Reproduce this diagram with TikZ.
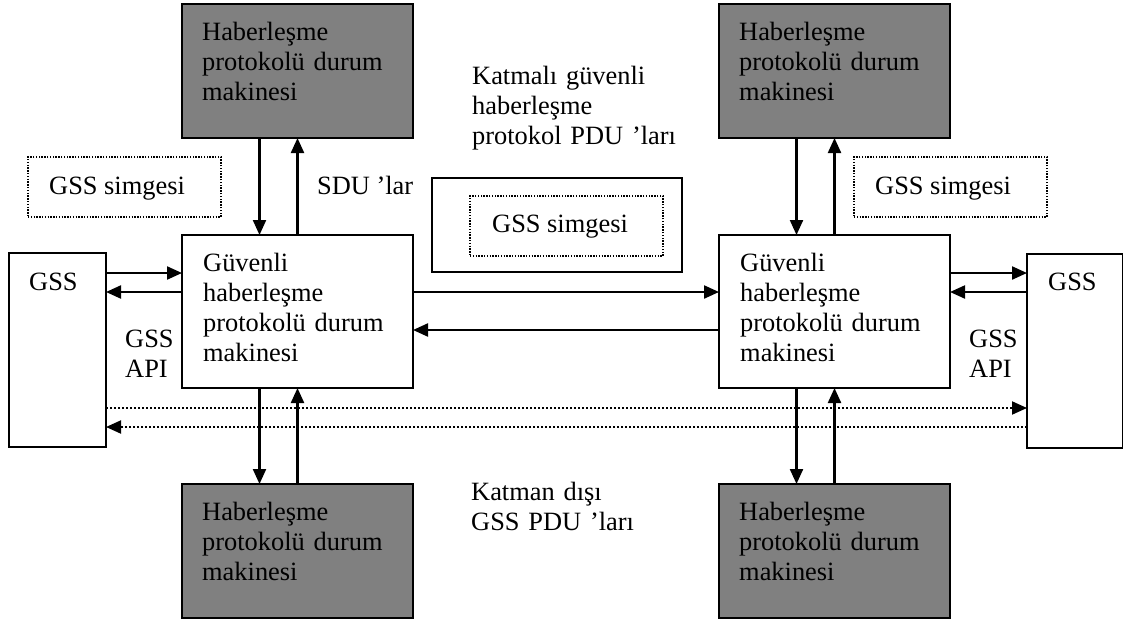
\documentclass[tikz,border=0pt]{standalone}
\usepackage{fontspec}
\setmainfont{Liberation Serif}
\usetikzlibrary{arrows.meta}
\definecolor{boxgray}{RGB}{128,128,128}
\begin{document}
\begin{tikzpicture}[x=1pt,y=-1pt,
  box/.style={draw, line width=2.2pt, rectangle, inner sep=0pt, outer sep=0pt, anchor=north west},
  machine/.style={box, fill=boxgray, minimum width=231pt, minimum height=134pt},
  core/.style={box, fill=white, minimum width=231pt, minimum height=153pt},
  gssbox/.style={box, minimum width=97pt, minimum height=194pt},
  tokenbox/.style={box, line width=1.8pt, dash pattern=on 1.4pt off 1.4pt, minimum width=193pt, minimum height=60pt},
  txt/.style={anchor=base west, align=left, inner sep=0pt, font=\fontsize{26.4}{30}\selectfont},
  mtxt/.style={txt, text width=230pt},
  arr/.style={line width=2.2pt, -{Triangle[length=15pt,width=13pt]}},
  dotarr/.style={line width=2pt, dash pattern=on 1.8pt off 2.2pt, -{Triangle[length=15pt,width=13pt]}}]
\useasboundingbox (0,0) rectangle (1123,621);

% protocol state machines (grey)
\node[machine] (mtl) at (182,4) {};
\node[machine] (mtr) at (719,4) {};
\node[machine] (mbl) at (182,484) {};
\node[machine] (mbr) at (719,484) {};
\foreach \m in {mtl,mtr,mbl,mbr}
  \node[mtxt] (\m-t) at ([xshift=20pt,yshift=-36pt]\m.north west) {Haberleşme\\protokolü durum\\makinesi};

% secure protocol state machines
\node[core] (cl) at (182,235) {};
\node[core] (cr) at (719,235) {};
\foreach \m in {cl,cr}
  \node[mtxt] (\m-t) at ([xshift=21pt,yshift=-36pt]\m.north west) {Güvenli\\haberleşme\\protokolü durum\\makinesi};

% GSS blocks
\node[gssbox] (gl) at (9,253) {};
\node[gssbox, minimum width=96pt] (gr) at (1027,254) {};
\node[txt] (gl-t) at (29,290) {GSS};
\node[txt] (gr-t) at (1048,290) {GSS};
\node[mtxt, text width=60pt] (apil) at (125,347) {GSS\\API};
\node[mtxt, text width=60pt] (apir) at (969,347) {GSS\\API};

% GSS tokens
\node[tokenbox] (tkl) at (28,157) {};
\node[tokenbox] (tkr) at (854,157) {};
\node[txt] (tkl-t) at (49,194) {GSS simgesi};
\node[txt] (tkr-t) at (875,194) {GSS simgesi};
\node[box, minimum width=250pt, minimum height=94pt] (pdu) at (432,178) {};
\node[tokenbox] (tkc) at (470,196) {};
\node[txt] (tkc-t) at (492,232) {GSS simgesi};

% labels
\node[txt] (sdu) at (317,194) {SDU ’lar};
\node[mtxt] (lay) at (472,84) {Katmalı güvenli\\haberleşme\\protokol PDU ’ları};
\node[mtxt] (out) at (471,500) {Katman dışı\\GSS PDU ’ları};

% vertical flows
\foreach \u/\c in {mtl/cl, mtr/cr} {
  \draw[arr] ([xshift=-38pt]\u.south) -- ([xshift=-38pt]\c.north);
  \draw[arr] (\c.north) -- (\u.south);
}
\foreach \d/\c in {mbl/cl, mbr/cr} {
  \draw[arr] ([xshift=-38pt]\c.south) -- ([xshift=-38pt]\d.north);
  \draw[arr] (\d.north) -- (\c.south);
}

% GSS API calls
\draw[arr] (gl.east |- 0,273) -- (cl.west |- 0,273);
\draw[arr] (cl.west |- 0,292) -- (gl.east |- 0,292);
\draw[arr] (cr.east |- 0,273) -- (gr.west |- 0,273);
\draw[arr] (gr.west |- 0,292) -- (cr.east |- 0,292);

% layered PDUs
\draw[arr] (cl.east |- 0,292) -- (cr.west |- 0,292);
\draw[arr] (cr.west |- 0,330) -- (cl.east |- 0,330);

% out-of-band GSS PDUs
\draw[dotarr] (gl.east |- 0,408) -- (gr.west |- 0,408);
\draw[dotarr] (gr.west |- 0,427) -- (gl.east |- 0,427);
\end{tikzpicture}
\end{document}
